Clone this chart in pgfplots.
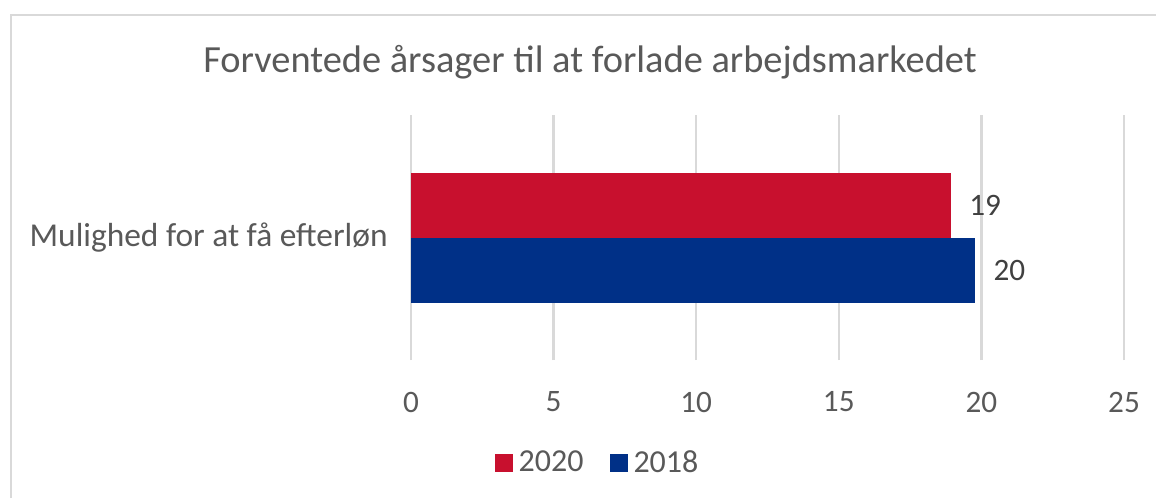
\documentclass[border=0pt]{standalone}
\usepackage{pgfplots}
\pgfplotsset{compat=1.18}
\usepackage{fontspec}
\setmainfont{Carlito}
\definecolor{red2020}{HTML}{C8102E}
\definecolor{blue2018}{HTML}{003087}
\definecolor{txt}{HTML}{595959}
\definecolor{lbl}{HTML}{404040}
\definecolor{gridc}{HTML}{D9D9D9}
\begin{document}
\begin{tikzpicture}[x=0.5pt,y=0.5pt]
\useasboundingbox (0,0) rectangle (1156,498);
\draw[color=gridc, line width=1pt] (11,0) -- (11,483) -- (1160,483);
\node[text=txt, font=\fontsize{19.2}{22}\selectfont] at (590,436) {Forventede årsager til at forlade arbejdsmarkedet};
\begin{axis}[
  at={(205.5pt,69pt)}, anchor=south west,
  scale only axis, width=356.5pt, height=122.5pt,
  xbar, bar width=32.5pt,
  xmin=0, xmax=25, ymin=-0.5, ymax=0.5,
  xtick={0,5,10,15,20,25}, ytick={0},
  yticklabels={Mulighed for at få efterløn},
  axis line style={draw=none}, major tick length=0pt,
  xmajorgrids, grid style={color=gridc, line width=1.25pt},
  /pgf/number format/assume math mode=true,
  xticklabel style={text=txt, font=\fontsize{15.6}{18}\selectfont, anchor=center, yshift=-21pt},
  yticklabel style={text=txt, font=\fontsize{16.7}{19}\selectfont, anchor=east, inner sep=0pt, xshift=-11.5pt},
  nodes near coords={\pgfmathprintnumber[fixed,precision=0]{\pgfplotspointmeta}},
  every node near coord/.append style={text=lbl, font=\fontsize{15.6}{18}\selectfont, anchor=west, inner sep=0pt, xshift=9pt},
  legend style={at={(axis description cs:0.263,-0.42)}, anchor=center, draw=none, fill=none,
    legend columns=2, font=\fontsize{16}{19}\selectfont, text=txt,
    /tikz/every odd column/.append style={column sep=1pt},
    /tikz/every even column/.append style={column sep=11pt}},
  legend image code/.code={\fill[#1,draw=none] (0pt,-4.5pt) rectangle (9pt,4.5pt);},
]
\addplot[fill=red2020, draw=none, bar shift=16.25pt] coordinates {(18.93,0)};
\addlegendentry{2020}
\addplot[fill=blue2018, draw=none, bar shift=-16.25pt] coordinates {(19.78,0)};
\addlegendentry{2018}
\end{axis}
\end{tikzpicture}
\end{document}
